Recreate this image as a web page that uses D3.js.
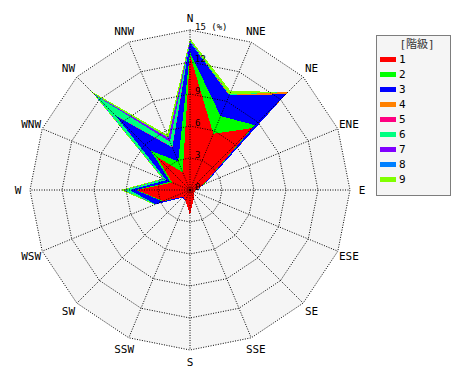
<!DOCTYPE html>
<html>
<head>
<meta charset="utf-8">
<script src="https://cdn.jsdelivr.net/npm/d3@7/dist/d3.min.js"></script>
<style>
body { margin: 0; background: #fff; }
text { font-family: 'DejaVu Sans Mono', 'Noto Sans CJK JP', monospace; fill: #000; }
</style>
</head>
<body>
<svg id="chart" width="470" height="380"></svg>
<script>
const directions = ['N', 'NNE', 'NE', 'ENE', 'E', 'ESE', 'SE', 'SSE',
    'S', 'SSW', 'SW', 'WSW', 'W', 'WNW', 'NW', 'NNW'];
const classes = ['1', '2', '3', '4', '5', '6', '7', '8', '9'];
const classColors = ['#ff0000', '#00ff00', '#0000ff', '#ff8000', '#ff0080',
    '#00ff80', '#8000ff', '#0080ff', '#80ff00'];

// frequency (%) of each class per direction, N clockwise
const class1 = [12.65, 5.7, 8.2, 1.4, 0.5, 0.45, 0.55, 0.9, 2.35, 1.1, 0.9, 2.7, 5.0, 1.8, 4.4, 1.8];
const class2 = [0.25, 1.8, 0.4, 0.05, 0, 0, 0, 0, 0, 0, 0, 0.1, 0.1, 0.2, 0.8, 1.1];
const class3 = [0.95, 2.1, 4.1, 0.1, 0.05, 0, 0, 0, 0, 0, 0.1, 0.7, 0.55, 0.4, 4.6, 1.4];
const class4 = [0, 0.05, 0.3, 0, 0, 0, 0, 0, 0, 0, 0, 0, 0, 0, 0, 0];
const class5 = [0, 0, 0, 0, 0, 0, 0, 0, 0, 0, 0, 0, 0, 0, 0.05, 0.05];
const class6 = [0.1, 0.05, 0, 0, 0, 0, 0, 0, 0, 0, 0, 0.05, 0.45, 0.25, 2.75, 0.55];
const class7 = [0.05, 0, 0, 0, 0, 0, 0, 0, 0, 0, 0, 0, 0.05, 0.05, 0.1, 0.35];
const class8 = [0, 0, 0, 0, 0, 0, 0, 0, 0, 0, 0, 0, 0.05, 0, 0.05, 0.05];
const class9 = [0.2, 0.3, 0.05, 0, 0, 0, 0, 0, 0, 0, 0, 0.05, 0.3, 0.1, 0.35, 0.3];
const classValues = [class1, class2, class3, class4, class5, class6, class7, class8, class9];

const ringTicks = [0, 3, 6, 9, 12, 15];
const legendTitle = '[階級]';

const cx = 190, cy = 190, outer = 160;

const svg = d3.select('#chart');

const rScale = d3.scaleLinear().domain([0, 15]).range([0, outer]);
const aScale = d3.scaleLinear().domain([0, directions.length]).range([0, 2 * Math.PI]);

const rows = directions.map(function(dir, i) {
    const row = {dir: dir};
    classes.forEach(function(c, k) { row[c] = classValues[k][i]; });
    return row;
});
const stacked = d3.stack().keys(classes)(rows);

const plot = svg.append('g')
    .attr('transform', 'translate(' + cx + ',' + cy + ')');

const ringLine = function(v) {
    return d3.lineRadial()
        .angle(function(d, i) { return aScale(i); })
        .radius(rScale(v))
        .curve(d3.curveLinearClosed)(directions);
};

// background
plot.append('path')
    .attr('d', ringLine(15))
    .attr('fill', '#f5f5f5');

// stacked areas, outermost first
const area = d3.lineRadial()
    .angle(function(d, i) { return aScale(i); })
    .radius(function(d) { return rScale(d[1]); })
    .curve(d3.curveLinearClosed);

plot.selectAll('path.cls')
    .data(stacked.slice().reverse())
    .enter().append('path')
    .attr('class', 'cls')
    .attr('d', function(s) { return area(s); })
    .attr('fill', function(s) { return classColors[s.index]; })
    .attr('shape-rendering', 'crispEdges');

// grid rings
plot.selectAll('path.ring')
    .data(ringTicks.slice(1))
    .enter().append('path')
    .attr('class', 'ring')
    .attr('d', function(v) { return ringLine(v); })
    .attr('fill', 'none')
    .attr('stroke', '#000')
    .attr('stroke-width', 1)
    .attr('stroke-dasharray', '1,1.5');

// spokes
plot.selectAll('line.spoke')
    .data(directions)
    .enter().append('line')
    .attr('class', 'spoke')
    .attr('x1', 0).attr('y1', 0)
    .attr('x2', function(d, i) { return rScale(15) * Math.sin(aScale(i)); })
    .attr('y2', function(d, i) { return -rScale(15) * Math.cos(aScale(i)); })
    .attr('stroke', '#000')
    .attr('stroke-width', 1)
    .attr('stroke-dasharray', '1,1.5');

plot.append('circle')
    .attr('r', 1.5)
    .attr('fill', '#000');

// ring labels along N spoke
plot.selectAll('text.tick')
    .data(ringTicks)
    .enter().append('text')
    .attr('class', 'tick')
    .attr('x', 5)
    .attr('y', function(v) { return -rScale(v); })
    .style('font-size', '9px')
    .text(function(v) { return v === 15 ? '15 (%)' : v; });

// direction labels
plot.selectAll('text.dir')
    .data(directions)
    .enter().append('text')
    .attr('class', 'dir')
    .attr('x', function(d, i) { return 172 * Math.sin(aScale(i)); })
    .attr('y', function(d, i) { return -172 * Math.cos(aScale(i)); })
    .attr('dy', '0.35em')
    .attr('text-anchor', 'middle')
    .style('font-size', '11px')
    .text(function(d) { return d; });

// legend
const legend = svg.append('g')
    .attr('transform', 'translate(376,35)');

legend.append('rect')
    .attr('x', 0.5).attr('y', 0.5)
    .attr('width', 74).attr('height', 160)
    .attr('fill', '#f5f5f5')
    .attr('stroke', '#000')
    .attr('stroke-dasharray', '1,1');

legend.append('text')
    .attr('x', 41)
    .attr('y', 9)
    .attr('dy', '0.35em')
    .attr('text-anchor', 'middle')
    .style('font-size', '11px')
    .style('fill', '#333')
    .text(legendTitle);

const items = legend.selectAll('g.item')
    .data(classes)
    .enter().append('g')
    .attr('class', 'item')
    .attr('transform', function(d, i) { return 'translate(0,' + (24 + i * 15) + ')'; });

items.append('rect')
    .attr('x', 4).attr('y', -2)
    .attr('width', 16).attr('height', 5)
    .attr('fill', function(d, i) { return classColors[i]; });

items.append('text')
    .attr('x', 23)
    .attr('y', 0)
    .attr('dy', '0.35em')
    .style('font-size', '11px')
    .text(function(d) { return d; });
</script>
</body>
</html>
